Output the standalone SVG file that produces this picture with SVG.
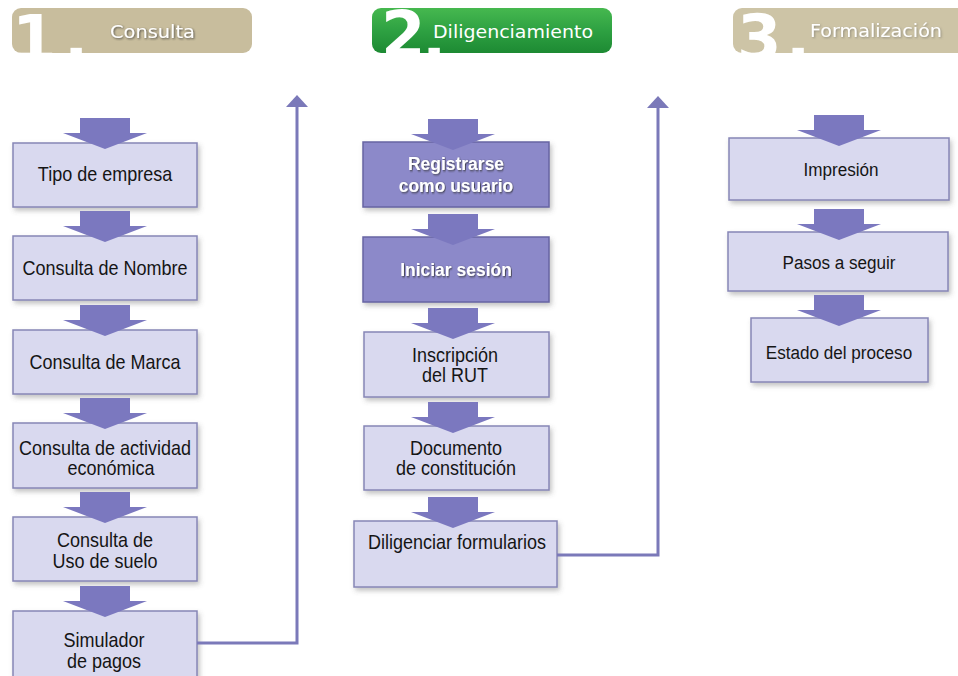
<svg xmlns="http://www.w3.org/2000/svg" xmlns:xlink="http://www.w3.org/1999/xlink" width="958" height="676" viewBox="0 0 958 676">
<defs>
  <linearGradient id="gGreen" x1="0" y1="0" x2="0" y2="1">
    <stop offset="0" stop-color="#46b84f"/>
    <stop offset="0.5" stop-color="#2ea142"/>
    <stop offset="1" stop-color="#1d8a33"/>
  </linearGradient>
  <filter id="shadow" x="-10%" y="-10%" width="130%" height="140%">
    <feDropShadow dx="2" dy="3" stdDeviation="2.5" flood-color="#555" flood-opacity="0.35"/>
  </filter>
  <filter id="tshadow" x="-10%" y="-30%" width="130%" height="170%">
    <feDropShadow dx="1" dy="1" stdDeviation="0.8" flood-color="#333" flood-opacity="0.8"/>
  </filter>
  <filter id="tshadowL" x="-10%" y="-30%" width="130%" height="170%">
    <feDropShadow dx="1" dy="1" stdDeviation="0.8" flood-color="#555" flood-opacity="0.5"/>
  </filter>
  <clipPath id="clip1"><rect x="12" y="0" width="240" height="53"/></clipPath>
  <clipPath id="clip2"><rect x="372" y="0" width="240" height="53"/></clipPath>
  <clipPath id="clip3"><rect x="733" y="0" width="225" height="53"/></clipPath>
  <path id="blk" d="M-25,-31 H25 V-16 H42 L0,0 L-42,-16 H-25 Z"/>
  <style>
    .box { fill: #d9d9ef; stroke: #8786b6; stroke-width: 1.5; filter: url(#shadow); }
    .dbox { fill: #8c89c9; stroke: #6764a3; stroke-width: 1.5; filter: url(#shadow); }
    .lbl { font-family: "Liberation Sans", Arial, sans-serif; font-size: 20px; fill: #151515; text-anchor: middle; }
    .lbl3 { font-family: "Liberation Sans", Arial, sans-serif; font-size: 19px; fill: #151515; text-anchor: middle; }
    .wlbl { font-family: "Liberation Sans", Arial, sans-serif; font-size: 19px; font-weight: bold; fill: #ffffff; text-anchor: middle; filter: url(#tshadow); }
    .num { font-family: "DejaVu Sans", sans-serif; font-weight: bold; font-size: 64px; fill: #ffffff; }
    .tab { font-family: "DejaVu Sans", Verdana, sans-serif; font-size: 18px; fill: #ffffff; }
    .arr { fill: #7b78bf; }
    .line { fill: none; stroke: #7b79b9; stroke-width: 3; }
    .head { fill: #7b79b9; }
  </style>
</defs>
<rect width="958" height="676" fill="#ffffff"/>

<!-- Header tabs -->
<g id="tab1">
  <rect x="12" y="8" width="240" height="45" rx="9" fill="#c8bd9d"/>
  <g clip-path="url(#clip1)">
    <text class="num" x="12" y="61">1</text>
    <text class="num" x="64" y="60">.</text>
  </g>
  <text class="tab" x="110" y="38" textLength="85" lengthAdjust="spacingAndGlyphs" filter="url(#tshadow)">Consulta</text>
</g>
<g id="tab2">
  <rect x="372" y="8" width="240" height="45" rx="9" fill="url(#gGreen)"/>
  <g clip-path="url(#clip2)">
    <text class="num" x="381" y="57">2</text>
    <text class="num" x="422" y="60">.</text>
  </g>
  <text class="tab" x="433" y="38" textLength="160" lengthAdjust="spacingAndGlyphs">Diligenciamiento</text>
</g>
<g id="tab3">
  <rect x="733" y="8" width="240" height="45" rx="9" fill="#cdc4a6"/>
  <g clip-path="url(#clip3)">
    <text class="num" x="737" y="60">3</text>
    <text class="num" x="786" y="60">.</text>
  </g>
  <text class="tab" x="810" y="37" textLength="132" lengthAdjust="spacingAndGlyphs" filter="url(#tshadowL)">Formalización</text>
</g>

<!-- Column 1 -->
<g id="n-tipo">
  <rect class="box" x="13" y="143" width="184" height="64"/>
  <text class="lbl" transform="translate(105,181) scale(0.9,1)">Tipo de empresa</text>
</g>
<g id="n-nombre">
  <rect class="box" x="13" y="236" width="184" height="64"/>
  <text class="lbl" transform="translate(105,275) scale(0.9,1)">Consulta de Nombre</text>
</g>
<g id="n-marca">
  <rect class="box" x="13" y="330" width="184" height="64"/>
  <text class="lbl" transform="translate(105,369) scale(0.9,1)">Consulta de Marca</text>
</g>
<g id="n-actividad">
  <rect class="box" x="13" y="423" width="184" height="65"/>
  <text class="lbl" transform="translate(105,455) scale(0.9,1)">Consulta de actividad</text>
  <text class="lbl" transform="translate(111,475) scale(0.9,1)">económica</text>
</g>
<g id="n-suelo">
  <rect class="box" x="13" y="517" width="184" height="64"/>
  <text class="lbl" transform="translate(105,547) scale(0.9,1)">Consulta de</text>
  <text class="lbl" transform="translate(105,568) scale(0.9,1)">Uso de suelo</text>
</g>
<g id="n-simulador">
  <rect class="box" x="13" y="611" width="184" height="72"/>
  <text class="lbl" transform="translate(104,647) scale(0.9,1)">Simulador</text>
  <text class="lbl" transform="translate(104,668) scale(0.9,1)">de pagos</text>
</g>

<!-- Column 2 -->
<g id="n-registrarse">
  <rect class="dbox" x="363" y="142" width="186" height="65"/>
  <text class="wlbl" transform="translate(456,170) scale(0.92,1)">Registrarse</text>
  <text class="wlbl" transform="translate(456,192) scale(0.92,1)">como usuario</text>
</g>
<g id="n-iniciar">
  <rect class="dbox" x="363" y="237" width="186" height="65"/>
  <text class="wlbl" transform="translate(456,276) scale(0.92,1)">Iniciar sesión</text>
</g>
<g id="n-rut">
  <rect class="box" x="364" y="332" width="185" height="65"/>
  <text class="lbl" transform="translate(455,362) scale(0.9,1)">Inscripción</text>
  <text class="lbl" transform="translate(455,382) scale(0.9,1)">del RUT</text>
</g>
<g id="n-documento">
  <rect class="box" x="364" y="426" width="185" height="64"/>
  <text class="lbl" transform="translate(456,455) scale(0.9,1)">Documento</text>
  <text class="lbl" transform="translate(456,475) scale(0.9,1)">de constitución</text>
</g>
<g id="n-diligenciar">
  <rect class="box" x="354" y="521" width="203" height="66"/>
  <text class="lbl" transform="translate(457,549) scale(0.9,1)">Diligenciar formularios</text>
</g>

<!-- Column 3 -->
<g id="n-impresion">
  <rect class="box" x="729" y="138" width="220" height="62"/>
  <text class="lbl3" transform="translate(841,176) scale(0.9,1)">Impresión</text>
</g>
<g id="n-pasos">
  <rect class="box" x="728" y="232" width="220" height="59"/>
  <text class="lbl3" transform="translate(839,269) scale(0.9,1)">Pasos a seguir</text>
</g>
<g id="n-estado">
  <rect class="box" x="751" y="318" width="177" height="64"/>
  <text class="lbl3" transform="translate(839,359) scale(0.9,1)">Estado del proceso</text>
</g>

<!-- Connectors -->
<g id="connectors">
  <use href="#blk" class="arr" x="105" y="149"/>
  <use href="#blk" class="arr" x="105" y="242"/>
  <use href="#blk" class="arr" x="105" y="336"/>
  <use href="#blk" class="arr" x="105" y="429"/>
  <use href="#blk" class="arr" x="105" y="523"/>
  <use href="#blk" class="arr" x="105" y="617"/>

  <use href="#blk" class="arr" x="453" y="150"/>
  <use href="#blk" class="arr" x="453" y="245"/>
  <use href="#blk" class="arr" x="453" y="339"/>
  <use href="#blk" class="arr" x="453" y="433"/>
  <use href="#blk" class="arr" x="453" y="528"/>

  <use href="#blk" class="arr" x="839" y="146"/>
  <use href="#blk" class="arr" x="839" y="240"/>
  <use href="#blk" class="arr" x="839" y="326"/>

  <path class="line" d="M197,643 H297 V106"/>
  <polygon class="head" points="286,107 308,107 297,95"/>
  <path class="line" d="M557,555 H658 V107"/>
  <polygon class="head" points="647,108 669,108 658,96"/>
</g>
</svg>
